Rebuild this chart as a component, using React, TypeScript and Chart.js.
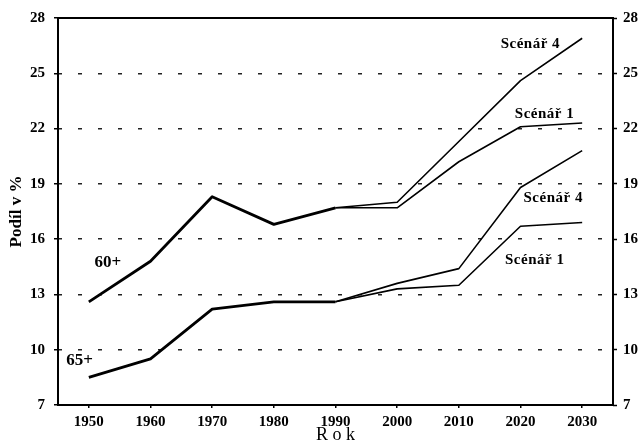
import React, { useEffect, useRef } from "react";
import { Chart, registerables } from "chart.js";

Chart.register(...registerables);

const years = ["1950", "1960", "1970", "1980", "1990", "2000", "2010", "2020", "2030"];
const hist60 = [12.6, 14.8, 18.3, 16.8, 17.7, null, null, null, null];
const scen4_60 = [null, null, null, null, 17.7, 18.0, 21.3, 24.6, 26.9];
const scen1_60 = [null, null, null, null, 17.7, 17.7, 20.2, 22.1, 22.3];
const hist65 = [8.5, 9.5, 12.2, 12.6, 12.6, null, null, null, null];
const scen4_65 = [null, null, null, null, 12.6, 13.6, 14.4, 18.8, 20.8];
const scen1_65 = [null, null, null, null, 12.6, 13.3, 13.5, 16.7, 16.9];
const yTicks = [7, 10, 13, 16, 19, 22, 25, 28];

const noteTexts = ["Scénář 4", "Scénář 1", "Scénář 4", "Scénář 1", "60+", "65+"];
const noteAt = [7.16, 7.39, 7.53, 7.23, 0.31, -0.15];
const noteVal = [26.6, 22.78, 18.2, 14.86, 14.75, 9.42];

const FONT = "'Liberation Serif', 'Times New Roman', serif";

const framePlugin = {
  id: "frameAndNotes",
  afterDatasetsDraw(chart: any) {
    const { ctx, chartArea } = chart;
    const xs = chart.scales.x;
    const ys = chart.scales.y;
    ctx.save();
    ctx.strokeStyle = "#000";
    ctx.lineWidth = 2;
    ctx.setLineDash([]);
    ctx.strokeRect(chartArea.left, chartArea.top, chartArea.right - chartArea.left, chartArea.bottom - chartArea.top);
    ctx.fillStyle = "#000";
    ctx.textAlign = "center";
    ctx.textBaseline = "middle";
    noteTexts.forEach((t, i) => {
      const big = t.indexOf("+") >= 0;
      ctx.font = `bold ${big ? 17 : 15}px ${FONT}`;
      (ctx as any).letterSpacing = big ? "0px" : "0.5px";
      ctx.fillText(t, xs.getPixelForValue(noteAt[i]), ys.getPixelForValue(noteVal[i]));
    });
    ctx.restore();
  },
};

export default function App() {
  const ref = useRef<HTMLCanvasElement | null>(null);
  useEffect(() => {
    if (!ref.current) return;
    const thick = 2.8;
    const thin = 1.6;
    const mk = (data: (number | null)[], w: number) => ({
      data,
      borderColor: "#000",
      backgroundColor: "#000",
      borderWidth: w,
      pointRadius: 0,
      tension: 0,
      spanGaps: false,
      borderJoinStyle: "round" as const,
    });
    const chart = new Chart(ref.current, {
      type: "line",
      data: {
        labels: years,
        datasets: [
          mk(scen4_60, thin),
          mk(scen1_60, thin),
          mk(scen4_65, thin),
          mk(scen1_65, thin),
          mk(hist60, thick),
          mk(hist65, thick),
        ],
      },
      options: {
        animation: false,
        responsive: false,
        layout: { padding: { top: 15, left: 0, right: 0, bottom: 0 } },
        plugins: { legend: { display: false }, tooltip: { enabled: false } },
        scales: {
          x: {
            type: "category",
            offset: true,
            grid: { display: true, drawOnChartArea: false, drawTicks: true, tickLength: 3, color: "#000", lineWidth: 1.5, offset: false },
            border: { display: false },
            ticks: { color: "#000", font: { family: FONT, size: 15, weight: "bold" }, padding: 5, maxRotation: 0 },
            title: { display: true, text: "R o k", color: "#000", font: { family: FONT, size: 18 }, padding: { top: 0, bottom: -2 } },
            afterFit: (s: any) => { s.height = 39; },
          },
          y: {
            position: "left",
            min: 7,
            max: 28,
            afterBuildTicks: (s: any) => { s.ticks = yTicks.map((v) => ({ value: v })); },
            grid: {
              color: "#222",
              lineWidth: 1.5,
              drawTicks: true,
              tickLength: 4,
              tickBorderDash: [],
              tickWidth: 1.5,
              tickColor: "#000",
            },
            border: { display: false, dash: [4, 16] },
            ticks: { color: "#000", font: { family: FONT, size: 15, weight: "bold" }, padding: 9 },
            title: { display: true, text: "Podíl v %", color: "#000", font: { family: FONT, size: 17, weight: "bold" }, padding: { top: 6, bottom: 0 } },
            afterFit: (s: any) => { s.width = 58; },
          },
          y2: {
            position: "right",
            min: 7,
            max: 28,
            afterBuildTicks: (s: any) => { s.ticks = yTicks.map((v) => ({ value: v })); },
            grid: { drawOnChartArea: false, color: "#000", drawTicks: true, tickLength: 4, tickBorderDash: [], tickWidth: 1.5 },
            border: { display: false },
            ticks: { color: "#000", font: { family: FONT, size: 15, weight: "bold" }, padding: 6 },
            afterFit: (s: any) => { s.width = 25; },
          },
        },
      },
      plugins: [framePlugin],
    });
    return () => chart.destroy();
  }, []);
  return (
    <div style={{ position: "absolute", left: 0, top: 0, width: 638, height: 444, background: "#fff" }}>
      <canvas ref={ref} width={638} height={444} style={{ width: 638, height: 444, display: "block" }} />
    </div>
  );
}
